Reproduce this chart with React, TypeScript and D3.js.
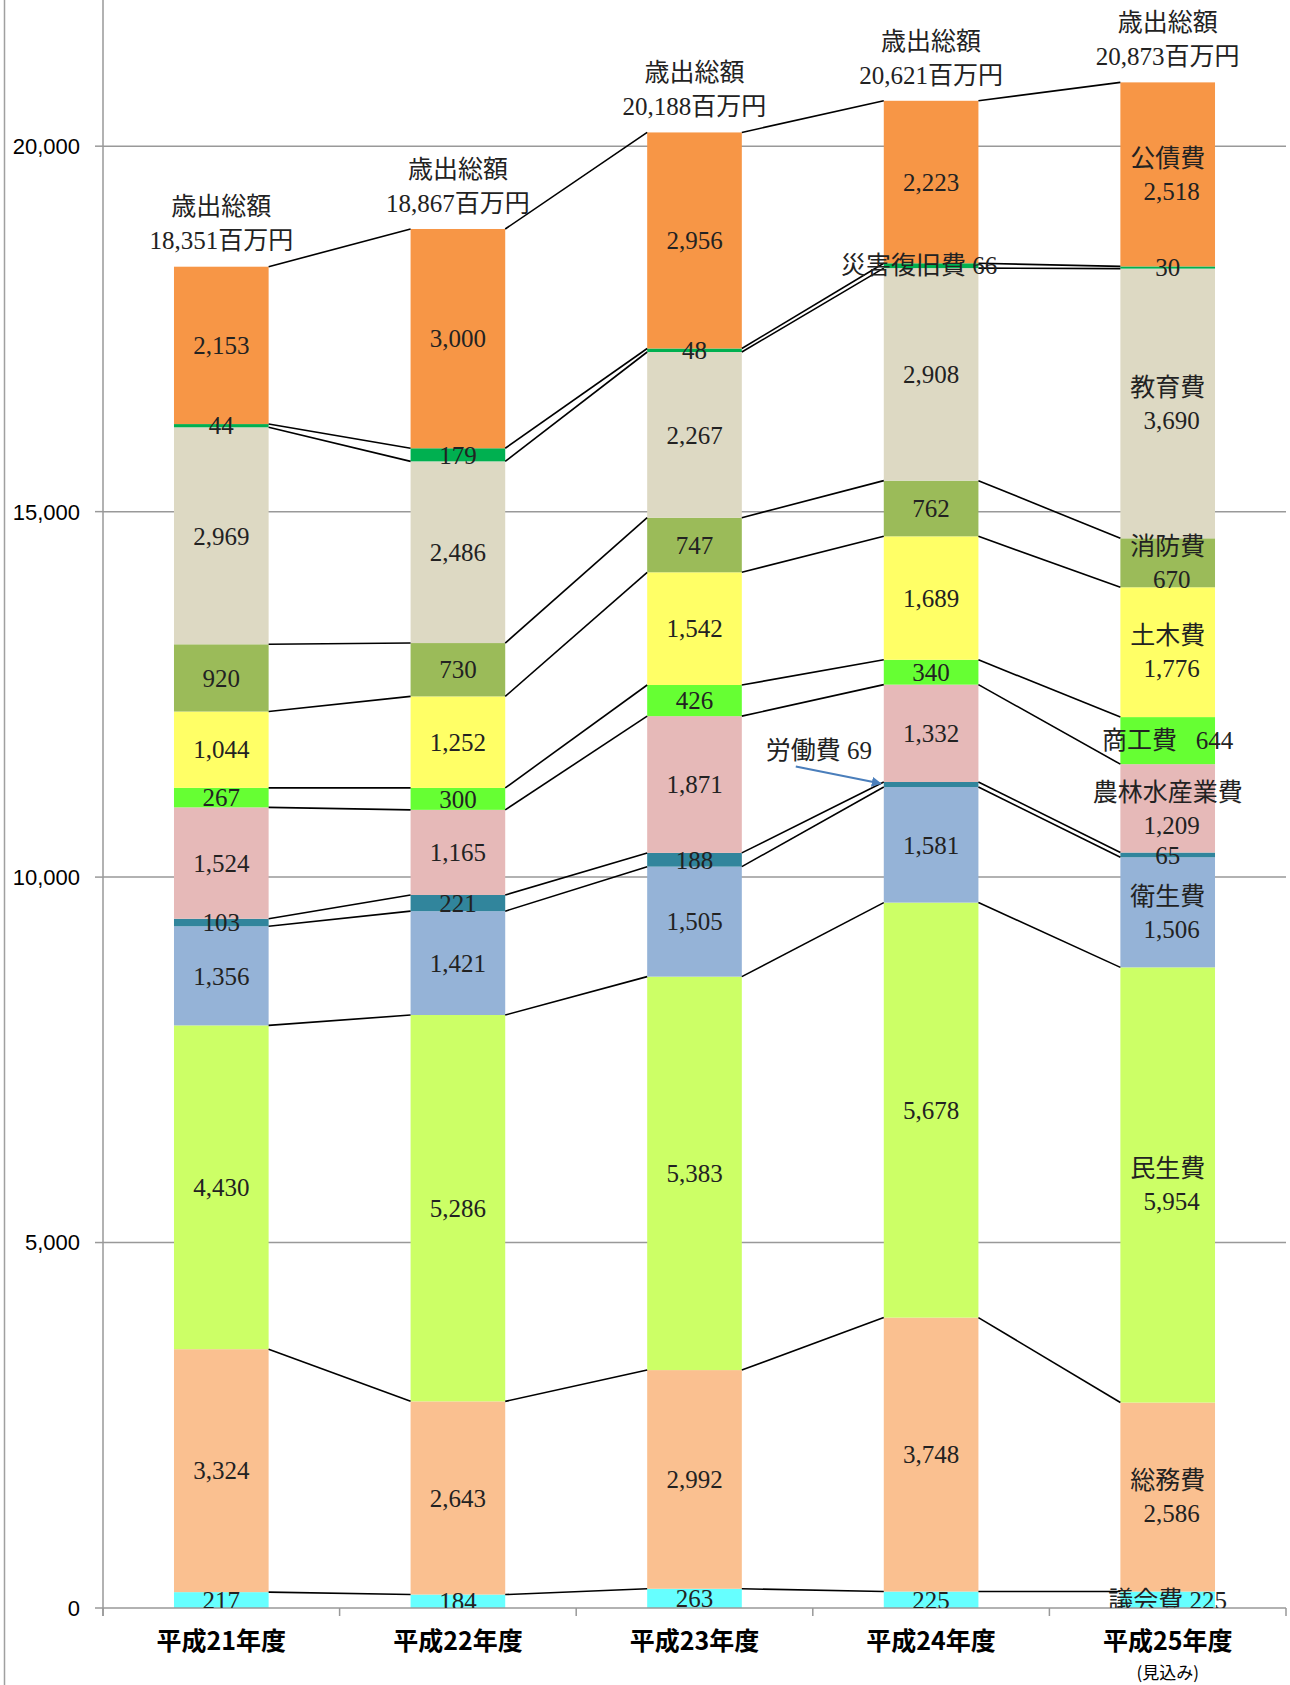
import React, { useEffect, useRef } from 'react';
import * as d3 from 'd3';

const years = ['平成21年度', '平成22年度', '平成23年度', '平成24年度', '平成25年度'];
const items = ['議会費', '総務費', '民生費', '衛生費', '労働費', '農林水産業費', '商工費', '土木費', '消防費', '教育費', '災害復旧費', '公債費'];
const colors = ['#66FFFF', '#FAC090', '#CCFF66', '#95B3D7', '#31859C', '#E6B9B8', '#66FF33', '#FFFF66', '#9BBB59', '#DDD9C3', '#00B050', '#F79646'];

const gikai = [217, 184, 263, 225, 225];
const somu = [3324, 2643, 2992, 3748, 2586];
const minsei = [4430, 5286, 5383, 5678, 5954];
const eisei = [1356, 1421, 1505, 1581, 1506];
const rodo = [103, 221, 188, 69, 65];
const norin = [1524, 1165, 1871, 1332, 1209];
const shoko = [267, 300, 426, 340, 644];
const doboku = [1044, 1252, 1542, 1689, 1776];
const shobo = [920, 730, 747, 762, 670];
const kyoiku = [2969, 2486, 2267, 2908, 3690];
const saigai = [44, 179, 48, 66, 30];
const kosai = [2153, 3000, 2956, 2223, 2518];
const yTicks = [0, 5000, 10000, 15000, 20000];

const series = [gikai, somu, minsei, eisei, rodo, norin, shoko, doboku, shobo, kyoiku, saigai, kosai];

const serif = '"Liberation Serif", "Noto Sans CJK JP", serif';
const sans = '"Liberation Sans", "Noto Sans CJK JP", sans-serif';
const cjk = '"Noto Sans CJK JP", sans-serif';

type Row = { year: string; [k: string]: number | string };

const Chart: React.FC = () => {
  const ref = useRef<SVGSVGElement | null>(null);

  useEffect(() => {
    const width = 1290;
    const height = 1685;
    const fmt = d3.format(',d');

    const svg = d3.select(ref.current)
      .attr('width', width)
      .attr('height', height)
      .style('display', 'block')
      .style('background', '#ffffff');
    svg.selectAll('*').remove();

    const table: Row[] = years.map((year, i) => {
      const row: Row = { year };
      items.forEach((name, k) => { row[name] = series[k][i]; });
      return row;
    });
    const stacked = d3.stack<Row>().keys(items).value((d, key) => d[key] as number)(table);

    const x = d3.scaleBand<string>()
      .domain(years)
      .range([103, 1286])
      .paddingInner(0.6)
      .paddingOuter(0.3);
    const y = d3.scaleLinear().domain([0, 22000]).range([1608, 0]);
    const bw = x.bandwidth();
    const x0 = 103;
    const x1 = 1286;

    const defs = svg.append('defs');
    defs.append('clipPath').attr('id', 'plotclip')
      .append('rect').attr('x', 0).attr('y', 0).attr('width', width).attr('height', y(0));
    defs.append('marker')
      .attr('id', 'arrow')
      .attr('viewBox', '0 0 10 10')
      .attr('refX', 9).attr('refY', 5)
      .attr('markerWidth', 5).attr('markerHeight', 5)
      .attr('orient', 'auto')
      .append('path').attr('d', 'M0,0L10,5L0,10z').attr('fill', '#4A7EBB');

    // page border
    svg.append('line')
      .attr('x1', 4.5).attr('x2', 4.5).attr('y1', 0).attr('y2', height)
      .attr('stroke', '#a0a0a0').attr('stroke-width', 1.5);

    // grid
    svg.append('g').selectAll('line')
      .data(yTicks.filter(t => t > 0))
      .join('line')
        .attr('x1', x0).attr('x2', x1)
        .attr('y1', d => y(d)).attr('y2', d => y(d))
        .attr('stroke', '#999').attr('stroke-width', 1.5);

    // bars
    const layer = svg.append('g').selectAll('g')
      .data(stacked)
      .join('g')
        .attr('fill', (_, k) => colors[k]);
    layer.selectAll('rect')
      .data(d => d)
      .join('rect')
        .attr('x', d => x(d.data.year)!)
        .attr('width', bw)
        .attr('y', d => y(d[1]))
        .attr('height', d => y(d[0]) - y(d[1]));

    // series lines between bars
    const links: [number, number, number, number][] = [];
    stacked.forEach(s => {
      for (let i = 0; i < s.length - 1; i++) {
        links.push([x(years[i])! + bw, y(s[i][1]), x(years[i + 1])!, y(s[i + 1][1])]);
      }
    });
    svg.append('g').selectAll('line')
      .data(links)
      .join('line')
        .attr('x1', d => d[0]).attr('y1', d => d[1])
        .attr('x2', d => d[2]).attr('y2', d => d[3])
        .attr('stroke', '#000').attr('stroke-width', 1.6);

    // axes
    const axis = svg.append('g').attr('stroke', '#999').attr('stroke-width', 1.5);
    axis.append('line').attr('x1', x0).attr('x2', x0).attr('y1', 0).attr('y2', y(0) + 8);
    axis.append('line').attr('x1', x0).attr('x2', x1).attr('y1', y(0)).attr('y2', y(0));
    axis.selectAll('line.yt').data(yTicks).join('line').attr('class', 'yt')
      .attr('x1', x0 - 8).attr('x2', x0).attr('y1', d => y(d)).attr('y2', d => y(d));
    const edges = [x0, ...years.slice(1).map((yr, i) => (x(years[i])! + bw + x(yr)!) / 2), x1];
    axis.selectAll('line.xt').data(edges).join('line').attr('class', 'xt')
      .attr('x1', d => d).attr('x2', d => d).attr('y1', y(0)).attr('y2', y(0) + 8);

    svg.append('g').selectAll('text')
      .data(yTicks)
      .join('text')
        .attr('x', 80)
        .attr('y', d => y(d))
        .attr('dy', '0.36em')
        .attr('text-anchor', 'end')
        .style('font-family', sans)
        .style('font-size', '22px')
        .text(d => fmt(d));

    svg.append('g').selectAll('text')
      .data(years)
      .join('text')
        .attr('x', d => x(d)! + bw / 2)
        .attr('y', 1650)
        .attr('text-anchor', 'middle')
        .style('font-family', cjk)
        .style('font-weight', 'bold')
        .style('font-size', '25px')
        .text(d => d);
    svg.append('text')
      .attr('x', x(years[4])! + bw / 2)
      .attr('y', 1679)
      .attr('text-anchor', 'middle')
      .style('font-family', cjk)
      .style('font-size', '17px')
      .text('(見込み)');

    // segment labels
    const labels = svg.append('g').attr('clip-path', 'url(#plotclip)')
      .style('font-family', serif)
      .style('font-size', '25px')
      .style('white-space', 'pre')
      .attr('fill', '#222');
    stacked.forEach((s, k) => {
      s.forEach((d, i) => {
        const v = series[k][i];
        const cx = x(years[i])! + bw / 2;
        const cy = y((d[0] + d[1]) / 2);
        let lines = [fmt(v)];
        let dx = 0;
        if (i === 4) {
          if (k === 0) lines = [`${items[k]} ${fmt(v)}`];
          else if (k === 6) lines = [`${items[k]}\u2002 ${fmt(v)}`];
          else if (k !== 4 && k !== 10) lines = [items[k], fmt(v)];
        }
        if (i === 3 && k === 10) { lines = [`${items[k]} ${fmt(v)}`]; dx = -12; }
        if (i === 3 && k === 4) return;
        lines.forEach((t, j) => {
          labels.append('text')
            .attr('x', cx + dx + (lines.length > 1 && j === 1 ? 4 : 0))
            .attr('y', cy + (j - (lines.length - 1) / 2) * 33)
            .attr('dy', '0.35em')
            .attr('text-anchor', 'middle')
            .text(t);
        });
      });
    });

    // callout for the thin 労働費 segment of H24
    const rd = stacked[4][3];
    const tipX = x(years[3])!;
    const tipY = y((rd[0] + rd[1]) / 2);
    svg.append('line')
      .attr('x1', tipX - 88).attr('y1', tipY - 18)
      .attr('x2', tipX - 3).attr('y2', tipY - 1)
      .attr('stroke', '#4A7EBB').attr('stroke-width', 2)
      .attr('marker-end', 'url(#arrow)');
    svg.append('text')
      .attr('x', tipX - 65).attr('y', tipY - 34)
      .attr('dy', '0.35em')
      .attr('text-anchor', 'middle')
      .style('font-family', serif)
      .style('font-size', '25px')
      .attr('fill', '#222')
      .text(`${items[4]} ${fmt(rodo[3])}`);

    // totals
    const top = stacked[stacked.length - 1];
    const totals = svg.append('g')
      .style('font-family', serif)
      .style('font-size', '25px')
      .attr('fill', '#222')
      .attr('text-anchor', 'middle');
    top.forEach((d, i) => {
      const cx = x(years[i])! + bw / 2;
      totals.append('text').attr('x', cx).attr('y', y(d[1]) - 60).attr('dy', '0.35em').text('歳出総額');
      totals.append('text').attr('x', cx).attr('y', y(d[1]) - 26).attr('dy', '0.35em').text(`${fmt(d[1])}百万円`);
    });
  }, []);

  return <svg ref={ref}></svg>;
};

export default function App() {
  return (
    <div>
      <style>{'body{margin:0}'}</style>
      <Chart />
    </div>
  );
}
